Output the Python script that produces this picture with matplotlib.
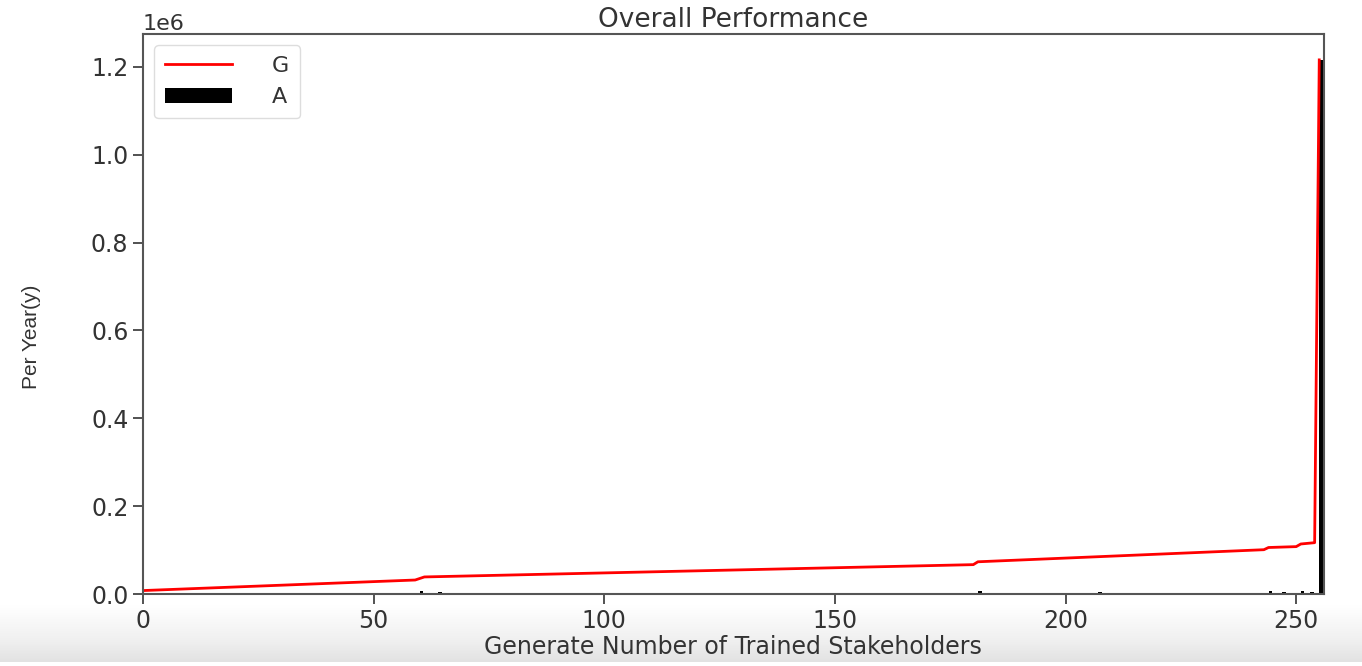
import matplotlib
matplotlib.use("Agg")
import matplotlib.pyplot as plt
import numpy as np

# G: visible vertices of the red line (x = stakeholder index, y = value)
g_x = [0, 59, 61, 180, 181, 243, 244, 250, 251, 254, 255]
g_y = [8000, 32000, 39000, 67000, 73500, 101000, 106000, 108000, 114000, 117000, 1216000]

# A: bars (mostly zero, a few tiny spikes and one big one at the end)
a_x = [60, 64, 181, 207, 231, 244, 247, 251, 253, 255]
a_y = [7000, 4000, 6000, 4000, 3000, 7000, 4000, 7000, 5000, 1216000]

x_ticks = [0, 50, 100, 150, 200, 250]
y_ticks = [0.0, 0.2e6, 0.4e6, 0.6e6, 0.8e6, 1.0e6, 1.2e6]

fig = plt.figure(figsize=(13.62, 6.66), dpi=100)

# light grey fade at the bottom of the screenshot
grad = np.linspace(0, 1, 60).reshape(-1, 1)
bax = fig.add_axes([0, 0.006, 1, 0.086], zorder=-1)
bax.imshow(grad, aspect="auto", cmap="Greys", vmin=0, vmax=5, extent=[0, 1, 0, 1])
bax.axis("off")

ax = fig.add_axes([0.105, 0.108, 0.867, 0.841])

ax.plot(g_x, g_y, color="red", linewidth=2, label="G")
ax.bar(a_x, a_y, width=0.8, align="edge", color="black", label="A")

ax.set_xlim(0, 256)
ax.set_ylim(0, 1.275e6)
ax.set_xticks(x_ticks)
ax.set_yticks(y_ticks)
ax.tick_params(labelsize=17, colors="#333333", length=7, width=1.2)
for s in ax.spines.values():
    s.set_color("#555555")
    s.set_linewidth(1.5)
ax.yaxis.get_offset_text().set_fontsize(16)
ax.yaxis.get_offset_text().set_color("#333333")

ax.set_title("Overall Performance", fontsize=19, color="#333333", pad=5)
ax.set_xlabel("Generate Number of Trained Stakeholders", fontsize=17,
              color="#333333", labelpad=2)
ax.set_ylabel("Per Year(y)", fontsize=15, color="#333333",
              family="Liberation Sans")
ax.yaxis.set_label_coords(-0.086, 0.46)

leg = ax.legend(loc="upper left", fontsize=16, handlelength=3.0,
                handletextpad=1.8, borderpad=0.5, framealpha=1)
leg.get_frame().set_edgecolor("#dddddd")
for t in leg.get_texts():
    t.set_color("#333333")

fig.savefig("out.png", dpi=100)
